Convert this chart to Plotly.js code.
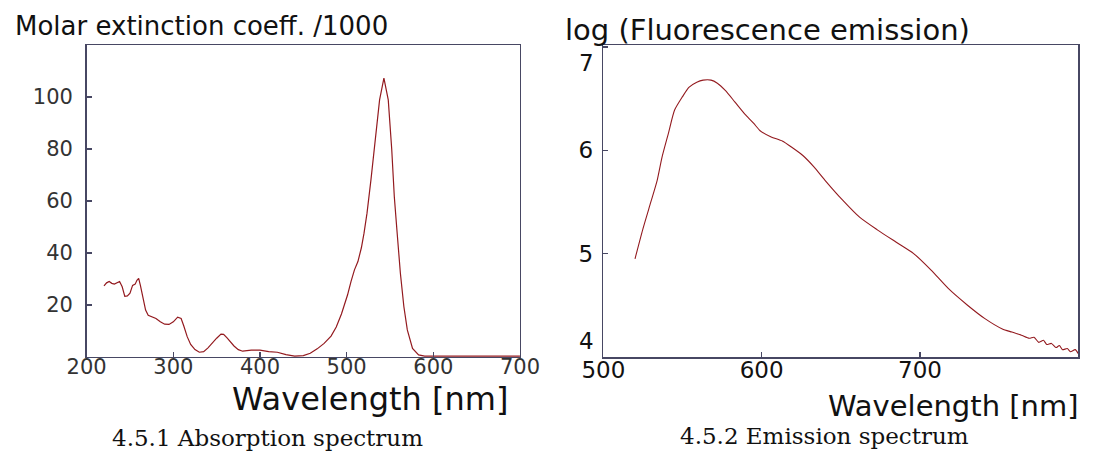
<!DOCTYPE html>
<html>
<head>
<meta charset="utf-8">
<script src="https://cdn.plot.ly/plotly-3.0.1.min.js"></script>
<style>html,body{margin:0;padding:0;background:#fff;}#chart{width:1097px;height:457px;}</style>
</head>
<body>
<div id="chart"></div>
<script>
// Absorption spectrum (molar extinction coefficient / 1000)
const absWavelength = [220,223,226,229,232,235,238,241,244,247,250,253,256,258,260,262,265,268,271,275,280,285,290,295,300,305,309,312,316,320,325,330,335,340,345,350,355,358,362,366,370,375,380,390,400,410,420,430,440,450,458,466,474,482,488,494,501,505,509,513,517,520,523.5,528,532,538,543,548,552,555,558,562,566,570,576,583,590,620,660,700];
const absValue = [27.3,28.5,29.0,28.3,28.0,28.5,29.0,27.0,23.3,23.5,24.5,27.5,28.0,29.5,30.2,27.5,22.5,18.0,16.0,15.6,14.8,13.5,12.6,12.5,13.5,15.3,14.8,12.0,7.8,4.8,2.8,1.8,2.0,3.5,5.5,7.2,8.8,8.7,7.3,5.8,4.2,2.8,2.2,2.6,2.6,2.0,1.8,0.9,0.3,0.5,1.4,3.1,5.2,8.0,11.5,16.5,23.8,29.0,33.5,36.7,42.0,47.5,55.3,68.0,80.0,98.9,107.3,98.9,80.0,61.6,48.8,32.2,19.4,10.4,3.3,0.8,0.3,0.3,0.3,0.3];

// Emission spectrum (log fluorescence emission)
const emWavelength = [520,525,530,534,537,541,545,550,554,559,563,568,572,577,583,590,595,599,606,613,619,626,633,640,651,662,673,685,696,707,718,730,741,752,758,764,769,772,775,778,780,783,786,788,790,793,795,798,800];
const emValue = [4.95,5.24,5.50,5.71,5.93,6.16,6.39,6.52,6.61,6.66,6.68,6.68,6.65,6.58,6.47,6.34,6.26,6.19,6.13,6.09,6.03,5.95,5.84,5.71,5.52,5.35,5.23,5.11,5.00,4.84,4.66,4.50,4.37,4.27,4.24,4.21,4.18,4.19,4.14,4.16,4.12,4.13,4.09,4.11,4.07,4.08,4.05,4.07,4.03];

const absTicksX = [200,300,400,500,600,700];
const absTicksY = [20,40,60,80,100];
const emTicksX = [500,600,700,800];
const emTicksY = [4,5,6,7];
const emEdgeTicksY = [4,7];   // labels drawn tucked inside the frame edges

const leftTitle = 'Molar extinction coeff. /1000';
const rightTitle = 'log (Fluorescence emission)';
const xTitle = 'Wavelength [nm]';
const leftCaption = '4.5.1 Absorption spectrum';
const rightCaption = '4.5.2 Emission spectrum';

const lineColor = '#931a1f';
const frameColor = '#474763';
const sans = 'DejaVu Sans, Verdana, sans-serif';
const serif = 'DejaVu Serif, Liberation Serif, serif';

const traces = [
  {x: absWavelength, y: absValue, type: 'scatter', mode: 'lines', xaxis: 'x', yaxis: 'y',
   line: {color: lineColor, width: 1.2}, hoverinfo: 'skip'},
  {x: emWavelength, y: emValue, type: 'scatter', mode: 'lines', xaxis: 'x2', yaxis: 'y2',
   line: {color: lineColor, width: 1.1, shape: 'spline', smoothing: 0.6}, hoverinfo: 'skip'}
];

function axisBase(extra) {
  return Object.assign({
    showgrid: false, zeroline: false, showline: true, mirror: true,
    linecolor: frameColor, linewidth: 1.5,
    ticks: 'inside', ticklen: 5, tickwidth: 1.2, tickcolor: frameColor,
    tickmode: 'array', fixedrange: true
  }, extra);
}

const annotations = [
  {text: leftTitle, xref: 'paper', yref: 'paper', x: 201/1097, y: 0.943, xanchor: 'center', yanchor: 'middle',
   showarrow: false, font: {family: sans, size: 26, color: '#111111'}},
  {text: rightTitle, xref: 'paper', yref: 'paper', x: 767/1097, y: 0.934, xanchor: 'center', yanchor: 'middle',
   showarrow: false, font: {family: sans, size: 29, color: '#111111'}},
  {text: xTitle, xref: 'paper', yref: 'paper', x: 370/1097, y: 0.127, xanchor: 'center', yanchor: 'middle',
   showarrow: false, font: {family: sans, size: 32, color: '#111111'}},
  {text: xTitle, xref: 'paper', yref: 'paper', x: 953/1097, y: 0.111, xanchor: 'center', yanchor: 'middle',
   showarrow: false, font: {family: sans, size: 29, color: '#111111'}},
  {text: leftCaption, xref: 'paper', yref: 'paper', x: 267.5/1097, y: 0.042, xanchor: 'center', yanchor: 'middle',
   showarrow: false, font: {family: serif, size: 23, color: '#111111'}},
  {text: rightCaption, xref: 'paper', yref: 'paper', x: 824.7/1097, y: 0.046, xanchor: 'center', yanchor: 'middle',
   showarrow: false, font: {family: serif, size: 23, color: '#111111'}}
];
emEdgeTicksY.forEach(v => {
  const top = v === Math.max(...emEdgeTicksY);
  annotations.push({text: String(v), xref: 'paper', yref: 'y2', x: 596/1097, y: v,
    xanchor: 'right', yanchor: top ? 'top' : 'bottom', yshift: top ? -1 : 1,
    showarrow: false, font: {family: sans, size: 23, color: '#111111'}});
});

const layout = {
  width: 1097, height: 457, autosize: false,
  margin: {l: 0, r: 0, t: 0, b: 0, pad: 0},
  paper_bgcolor: '#ffffff', plot_bgcolor: '#ffffff',
  showlegend: false,
  xaxis: axisBase({domain: [0.079, 0.474], range: [200, 700], anchor: 'y',
    tickvals: absTicksX, ticktext: absTicksX.map(String), ticklabelstandoff: -10,
    tickfont: {family: sans, size: 21, color: '#333333'}}),
  yaxis: axisBase({domain: [0.219, 0.9015], range: [0, 120], anchor: 'x',
    tickvals: absTicksY, ticktext: absTicksY.map(String), ticklabelstandoff: 8,
    tickfont: {family: sans, size: 21, color: '#333333'}}),
  xaxis2: axisBase({domain: [0.55, 0.983], range: [500, 800], anchor: 'y2',
    tickvals: emTicksX, ticktext: emTicksX.map(String), ticklabelstandoff: -8,
    tickfont: {family: sans, size: 23, color: '#111111'}}),
  yaxis2: axisBase({domain: [0.218, 0.9015], range: [3.995, 7.02], anchor: 'x2',
    tickvals: emTicksY, ticktext: emTicksY.map(v => emEdgeTicksY.includes(v) ? '' : String(v)),
    ticklabelstandoff: 4,
    tickfont: {family: sans, size: 23, color: '#111111'}}),
  annotations: annotations
};

Plotly.newPlot('chart', traces, layout, {staticPlot: true, displayModeBar: false});
</script>
</body>
</html>
